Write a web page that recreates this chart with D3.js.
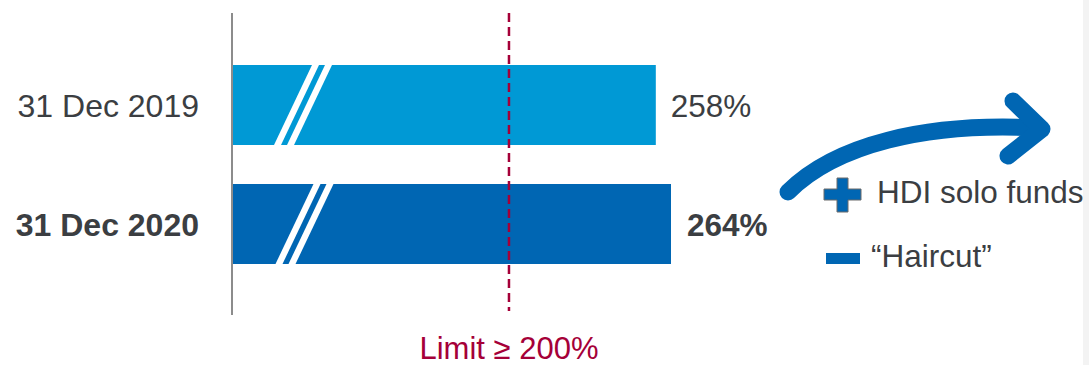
<html>
<head>
  <title>Solvency ratio</title>
  <script src='https://d3js.org/d3.v7.min.js'></script>
</head>
<style type="text/css">
body { margin: 0; background: #fff; }
text { font-family: "Liberation Sans", Arial, sans-serif; }
</style>
<body>
<script>

// chart data
var categories = ["31 Dec 2019", "31 Dec 2020"],
    ratios = [258, 264],
    labels = ["258%", "264%"],
    limitValue = 200,
    limitLabel = "Limit \u2265 200%",
    legendItems = ["HDI solo funds", "\u201CHaircut\u201D"];

var width = 1089,
    height = 365,
    colors = ["#0099d5", "#0066b3"],
    textColor = "#3b3e42",
    limitColor = "#a50038";

var svg = d3.select('body')
  .append('svg')
  .attr('width', width)
  .attr('height', height);

// broken value axis: starts at ~90%
var x = d3.scaleLinear()
  .domain([90.6, 264])
  .range([232, 671]);

var y = d3.scaleBand()
  .domain(categories)
  .range([45.5, 283.5])
  .paddingInner(39 / 119)
  .paddingOuter(39 / 238);

// light strip at right edge
svg.append('rect')
  .attr('x', 1083)
  .attr('y', 0)
  .attr('width', 6)
  .attr('height', height)
  .attr('fill', '#f3f3f3');

// bars
var bar = svg.selectAll('.bar')
  .data(categories)
  .enter().append('g')
  .attr('class', 'bar');

bar.append('rect')
  .attr('x', x(x.domain()[0]))
  .attr('y', function(d) { return y(d); })
  .attr('width', function(d, i) { return x(ratios[i]) - x(x.domain()[0]); })
  .attr('height', y.bandwidth())
  .attr('fill', function(d, i) { return colors[i]; });

// axis break slashes
bar.each(function(d, i) {
  var g = d3.select(this),
      top = y(d),
      bot = y(d) + y.bandwidth(),
      shift = i * 1.5;
  [0, 13].forEach(function(off) {
    g.append('polygon')
      .attr('points', [
        [274 + off + shift, bot], [281 + off + shift, bot],
        [319 + off + shift, top], [312 + off + shift, top]
      ].map(function(p) { return p.join(','); }).join(' '))
      .attr('fill', '#fff');
  });
});

// value labels
bar.append('text')
  .attr('x', function(d, i) { return x(ratios[i]) + 15 + i; })
  .attr('y', function(d) { return y(d) + 52; })
  .attr('fill', textColor)
  .attr('font-size', '31.5px')
  .attr('font-weight', function(d, i) { return i == 1 ? 'bold' : 'normal'; })
  .text(function(d, i) { return labels[i]; });

// category labels
bar.append('text')
  .attr('x', 199)
  .attr('y', function(d) { return y(d) + 52; })
  .attr('text-anchor', 'end')
  .attr('fill', textColor)
  .attr('font-size', '32px')
  .attr('font-weight', function(d, i) { return i == 1 ? 'bold' : 'normal'; })
  .text(function(d) { return d; });

// axis line
svg.append('line')
  .attr('x1', 232).attr('x2', 232)
  .attr('y1', 13).attr('y2', 315)
  .attr('stroke', '#8c8c8c')
  .attr('stroke-width', 2);

// limit line
svg.append('line')
  .attr('x1', x(limitValue)).attr('x2', x(limitValue))
  .attr('y1', 13).attr('y2', 311)
  .attr('stroke', limitColor)
  .attr('stroke-width', 2.5)
  .attr('stroke-dasharray', '9,5');

svg.append('text')
  .attr('x', x(limitValue))
  .attr('y', 359)
  .attr('text-anchor', 'middle')
  .attr('fill', limitColor)
  .attr('font-size', '31px')
  .text(limitLabel);

// curved arrow
svg.append('path')
  .attr('d', 'M788,192 C835,145 925,122 1038,128')
  .attr('fill', 'none')
  .attr('stroke', '#0066b3')
  .attr('stroke-width', 17)
  .attr('stroke-linecap', 'round');

svg.append('path')
  .attr('d', 'M1013,101 L1042,129 L1008,156')
  .attr('fill', 'none')
  .attr('stroke', '#0066b3')
  .attr('stroke-width', 17)
  .attr('stroke-linecap', 'round')
  .attr('stroke-linejoin', 'round');

// legend
var legend = svg.selectAll('.legend')
  .data(legendItems)
  .enter().append('g')
  .attr('class', 'legend');

legend.filter(function(d, i) { return i == 0; })
  .append('path')
  .attr('d', 'M837,178 h11 v11 h13 v11 h-13 v12 h-11 v-12 h-13 v-11 h13 z')
  .attr('fill', '#0066b3')
  .attr('stroke', '#6b6b6b')
  .attr('stroke-width', 1);

legend.filter(function(d, i) { return i == 1; })
  .append('rect')
  .attr('x', 826)
  .attr('y', 253)
  .attr('width', 34)
  .attr('height', 11)
  .attr('fill', '#0066b3');

legend.append('text')
  .attr('x', function(d, i) { return i == 0 ? 877 : 871; })
  .attr('y', function(d, i) { return i == 0 ? 203 : 267; })
  .attr('fill', textColor)
  .attr('font-size', '31.5px')
  .text(function(d) { return d; });

</script>
</body>
</html>
